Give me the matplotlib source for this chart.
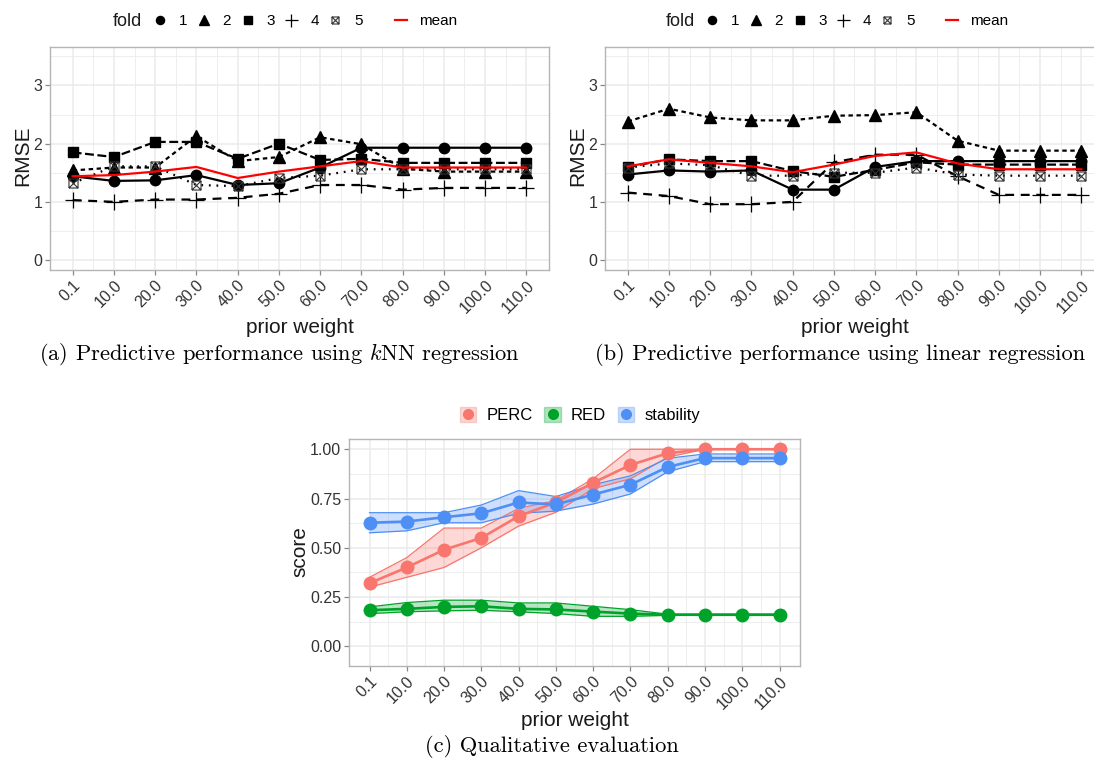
import matplotlib
matplotlib.use("Agg")
import matplotlib.pyplot as plt
from matplotlib.path import Path
from matplotlib.lines import Line2D
from matplotlib.patches import Patch
from matplotlib.ticker import MultipleLocator

plt.rcParams['font.family'] = ['Liberation Sans', 'DejaVu Sans']
plt.rcParams['mathtext.fontset'] = 'cm'

# ---------------- data ----------------
weights = ["0.1", "10.0", "20.0", "30.0", "40.0", "50.0", "60.0", "70.0",
           "80.0", "90.0", "100.0", "110.0"]

# (a) kNN regression RMSE per fold
knn_f1 = [1.44, 1.36, 1.37, 1.46, 1.29, 1.32, 1.59, 1.93, 1.93, 1.93, 1.93, 1.93]
knn_f2 = [1.54, 1.59, 1.59, 2.13, 1.70, 1.77, 2.11, 1.99, 1.57, 1.52, 1.52, 1.52]
knn_f3 = [1.85, 1.77, 2.03, 2.03, 1.74, 2.00, 1.72, 1.74, 1.67, 1.67, 1.67, 1.67]
knn_f4 = [1.03, 1.00, 1.04, 1.04, 1.07, 1.14, 1.29, 1.29, 1.21, 1.24, 1.24, 1.24]
knn_f5 = [1.32, 1.61, 1.61, 1.29, 1.27, 1.41, 1.45, 1.56, 1.56, 1.56, 1.56, 1.56]
knn_mean = [1.44, 1.46, 1.52, 1.60, 1.41, 1.52, 1.61, 1.70, 1.59, 1.59, 1.59, 1.59]

# (b) linear regression RMSE per fold
lin_f1 = [1.47, 1.54, 1.52, 1.54, 1.21, 1.21, 1.60, 1.70, 1.70, 1.70, 1.70, 1.70]
lin_f2 = [2.38, 2.60, 2.45, 2.40, 2.40, 2.48, 2.49, 2.54, 2.05, 1.88, 1.88, 1.88]
lin_f3 = [1.60, 1.73, 1.70, 1.70, 1.53, 1.43, 1.55, 1.68, 1.64, 1.64, 1.64, 1.64]
lin_f4 = [1.16, 1.10, 0.96, 0.96, 1.00, 1.68, 1.81, 1.81, 1.44, 1.12, 1.12, 1.12]
lin_f5 = [1.59, 1.66, 1.63, 1.45, 1.45, 1.50, 1.50, 1.59, 1.47, 1.45, 1.45, 1.45]
lin_mean = [1.61, 1.73, 1.67, 1.61, 1.51, 1.64, 1.79, 1.85, 1.66, 1.56, 1.56, 1.56]

# (c) qualitative evaluation
perc = [0.32, 0.40, 0.49, 0.55, 0.66, 0.73, 0.83, 0.92, 0.98, 1.00, 1.00, 1.00]
perc_lo = [0.30, 0.35, 0.40, 0.50, 0.61, 0.68, 0.80, 0.85, 0.96, 1.00, 1.00, 1.00]
perc_hi = [0.35, 0.45, 0.60, 0.60, 0.70, 0.74, 0.85, 1.00, 1.00, 1.00, 1.00, 1.00]
red = [0.183, 0.190, 0.200, 0.203, 0.190, 0.187, 0.176, 0.166, 0.160, 0.160, 0.160, 0.160]
red_lo = [0.166, 0.175, 0.180, 0.183, 0.175, 0.166, 0.152, 0.152, 0.157, 0.157, 0.157, 0.157]
red_hi = [0.200, 0.222, 0.234, 0.234, 0.220, 0.220, 0.203, 0.186, 0.163, 0.163, 0.163, 0.163]
stab = [0.627, 0.633, 0.655, 0.675, 0.730, 0.720, 0.770, 0.820, 0.910, 0.955, 0.955, 0.955]
stab_lo = [0.576, 0.586, 0.627, 0.627, 0.675, 0.686, 0.722, 0.773, 0.886, 0.937, 0.937, 0.937]
stab_hi = [0.678, 0.678, 0.678, 0.717, 0.790, 0.760, 0.820, 0.865, 0.954, 0.976, 0.976, 0.976]

# ---------------- styling ----------------
W, H = 1094, 761
fig = plt.figure(figsize=(W / 100, H / 100), dpi=100)

def ax_px(l, t, r, b):
    return fig.add_axes([l / W, 1 - b / H, (r - l) / W, (b - t) / H])

GRID = '#EBEBEB'
TXT = '#1A1A1A'
TICK = '#333333'

def style(ax, ylim, ymaj, ymin_, yfmt):
    x = list(range(len(weights)))
    ax.set_xlim(-0.55, len(weights) - 0.45)
    ax.set_ylim(*ylim)
    ax.set_xticks(x)
    ax.set_xticks([i + 0.5 for i in x[:-1]], minor=True)
    ax.set_xticklabels(weights, rotation=45, ha='right', va='top',
                       rotation_mode='anchor', fontsize=11.5, color=TICK)
    ax.yaxis.set_major_locator(MultipleLocator(ymaj))
    ax.yaxis.set_minor_locator(MultipleLocator(ymin_))
    ax.yaxis.set_major_formatter(yfmt)
    for lab in ax.get_yticklabels():
        lab.set_fontsize(11.5)
        lab.set_color(TICK)
    ax.grid(which='major', color=GRID, lw=1.1, zorder=0)
    ax.grid(which='minor', color=GRID, lw=0.6, zorder=0)
    ax.set_axisbelow(True)
    for s in ax.spines.values():
        s.set_color('#B5B5B5')
        s.set_linewidth(1.0)
    ax.tick_params(which='major', length=3.5, width=0.9, color='#888888', pad=2)
    ax.tick_params(which='minor', length=0)

boxx = Path([(-1, -1), (1, -1), (1, 1), (-1, 1), (-1, -1),
             (-1, -1), (1, 1), (-1, 1), (1, -1)],
            [Path.MOVETO, Path.LINETO, Path.LINETO, Path.LINETO, Path.LINETO,
             Path.MOVETO, Path.LINETO, Path.MOVETO, Path.LINETO])

fold_styles = [
    dict(marker='o', ms=7.5, mfc='black', mec='black', ls='-'),
    dict(marker='^', ms=8.5, mfc='black', mec='black', ls=(0, (2, 1.6))),
    dict(marker='s', ms=7.0, mfc='black', mec='black', ls=(0, (4, 1.6))),
    dict(marker='+', ms=12, mfc='black', mec='black', mew=0.9, ls=(0, (4, 3))),
    dict(marker=boxx, ms=6.5, mfc='none', mec='#333333', mew=0.8, ls=(0, (0.8, 2.6))),
]

def rmse_panel(ax, folds, mean):
    x = list(range(len(weights)))
    for vals, st in zip(folds, fold_styles):
        st = dict(st)
        ls = st.pop('ls')
        ax.plot(x, vals, color='black', lw=1.6, linestyle=ls, zorder=3, **st)
    ax.plot(x, mean, color='#FF0000', lw=1.6, zorder=4)
    style(ax, (-0.17, 3.66), 1, 0.5, '{x:.0f}')

axa = ax_px(50, 47, 549, 270)
rmse_panel(axa, [knn_f1, knn_f2, knn_f3, knn_f4, knn_f5], knn_mean)
axb = ax_px(605, 47, 1104, 270)
rmse_panel(axb, [lin_f1, lin_f2, lin_f3, lin_f4, lin_f5], lin_mean)

# (c)
axc = ax_px(349, 439, 800, 666)
xc = list(range(len(weights)))
series = [(perc, perc_lo, perc_hi, '#F8766D', 'PERC'),
          (red, red_lo, red_hi, '#00A32A', 'RED'),
          (stab, stab_lo, stab_hi, '#4E8FF5', 'stability')]
for mid, lo, hi, col, name in series:
    axc.fill_between(xc, lo, hi, color=col, alpha=0.28, lw=0, zorder=2)
    axc.plot(xc, lo, color=col, lw=0.9, zorder=2.5)
    axc.plot(xc, hi, color=col, lw=0.9, zorder=2.5)
    axc.plot(xc, mid, color=col, lw=1.9, marker='o', ms=9, zorder=3)
style(axc, (-0.1, 1.052), 0.25, 0.125, '{x:.2f}')

# axis titles
for cx, cy in [(300, 327), (855, 327), (575, 720)]:
    fig.text(cx / W, 1 - cy / H, 'prior weight', ha='center', va='center',
             fontsize=15, color=TXT)
for cx, cy, t in [(23, 156, 'RMSE'), (578, 156, 'RMSE'), (300, 552, 'score')]:
    fig.text(cx / W, 1 - cy / H, t, ha='center', va='center', rotation=90,
             fontsize=15, color=TXT)

# captions
capfont = dict(family='cmr10', color='black', ha='center', va='center', fontsize=16.2)
fig.text(279 / W, 1 - 355 / H, r'(a) Predictive performance using $k$NN regression', **capfont)
fig.text(840 / W, 1 - 355 / H, r'(b) Predictive performance using linear regression', **capfont)
fig.text(552 / W, 1 - 746 / H, r'(c) Qualitative evaluation', **capfont)

# legends for (a) and (b)
def fold_handles():
    hs = []
    for st in fold_styles:
        st = dict(st)
        st.pop('ls')
        st['ms'] = st['ms'] * 0.78
        hs.append(Line2D([], [], color='black', ls='none', **st))
    return hs

for fx, hx, mx in [(127, 152, 395), (680, 704, 946)]:
    fig.text(fx / W, 1 - 21 / H, 'fold', ha='center', va='center', fontsize=13, color=TXT)
    fig.legend(fold_handles(), ['1', '2', '3', '4', '5'], ncol=5, frameon=False,
               loc='center left', bbox_to_anchor=(hx / W, 1 - 21 / H),
               fontsize=11, handlelength=1.0, handletextpad=0.75,
               columnspacing=0.57, borderaxespad=0, borderpad=0)
    fig.legend([Line2D([], [], color='#FF0000', lw=1.6)], ['mean'], frameon=False,
               loc='center left', bbox_to_anchor=(mx / W, 1 - 21 / H),
               fontsize=11, handlelength=0.8, handletextpad=0.78,
               borderaxespad=0, borderpad=0)

# legend for (c)
hc = []
for mid, lo, hi, col, name in series:
    hc.append((Patch(facecolor=col, alpha=0.3, edgecolor=col, lw=1.0),
               Line2D([], [], color=col, marker='o', ms=7, ls='none')))
fig.legend(hc, [s[4] for s in series], ncol=3, frameon=False,
           loc='center', bbox_to_anchor=(580 / W, 1 - 415 / H),
           fontsize=12, handlelength=1.0, handleheight=1.0, handletextpad=0.6,
           columnspacing=0.7, borderaxespad=0, borderpad=0)

fig.savefig('out.png', dpi=100)
